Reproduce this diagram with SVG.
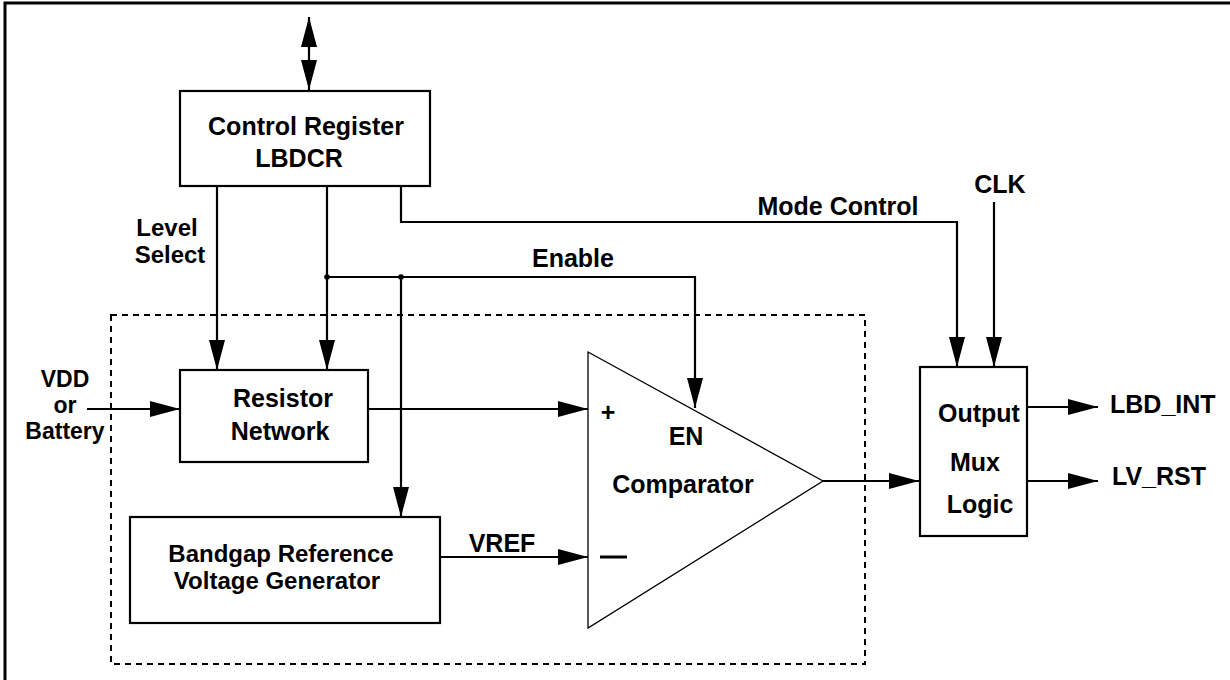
<svg xmlns="http://www.w3.org/2000/svg" width="1230" height="680" viewBox="0 0 1230 680">
<style>
.box{fill:#fff;stroke:#000;stroke-width:2.2}
.ln{fill:none;stroke:#000;stroke-width:2.2}
.arr{marker-end:url(#ah)}
.t{font-family:"Liberation Sans",Arial,sans-serif;font-weight:bold;font-size:25px;fill:#000}
.s{font-size:23px}
.k{font-size:24px}
.m{text-anchor:middle}
</style>
<defs>
<marker id="ah" markerUnits="userSpaceOnUse" markerWidth="30" markerHeight="16" refX="30" refY="8" orient="auto-start-reverse">
<path d="M0,0 L30,8 L0,16 z" fill="#000"/>
</marker>
</defs>
<rect width="1230" height="680" fill="#fff"/>
<path d="M5,680 V3 H1230" fill="none" stroke="#000" stroke-width="3"/>
<g id="block-boundary">
<rect x="111" y="315" width="754" height="349" fill="none" stroke="#000" stroke-width="2" stroke-dasharray="6,5"/>
</g>
<g id="connectors">
<line class="ln" x1="309" y1="17" x2="309" y2="90" style="marker-start:url(#ah);marker-end:url(#ah)"/>
<line class="ln arr" x1="217" y1="186" x2="217" y2="370"/>
<line class="ln arr" x1="327" y1="186" x2="327" y2="370"/>
<polyline class="ln arr" points="401,186 401,222 957,222 957,367"/>
<line class="ln arr" x1="994" y1="202" x2="994" y2="367"/>
<polyline class="ln arr" points="327,277 695,277 695,408"/>
<line class="ln arr" x1="401" y1="277" x2="401" y2="517"/>
<circle cx="327" cy="277" r="2.8" fill="#000"/>
<circle cx="401" cy="277" r="2.8" fill="#000"/>
<line class="ln arr" x1="87" y1="409" x2="180" y2="409"/>
<line class="ln arr" x1="368" y1="409" x2="588" y2="409"/>
<line class="ln arr" x1="440" y1="557" x2="588" y2="557"/>
<line class="ln arr" x1="823" y1="481" x2="919" y2="481"/>
<line class="ln arr" x1="1027" y1="407" x2="1098" y2="407"/>
<line class="ln arr" x1="1027" y1="481" x2="1098" y2="481"/>
<text class="t k m" x="167" y="236">Level</text>
<text class="t k m" x="170" y="263">Select</text>
<text class="t m" x="838" y="215">Mode Control</text>
<text class="t m" x="1000" y="193">CLK</text>
<text class="t m" x="573" y="267">Enable</text>
<text class="t s m" x="65" y="387">VDD</text>
<text class="t s m" x="65" y="413">or</text>
<text class="t s m" x="65" y="439">Battery</text>
<text class="t m" x="502" y="552">VREF</text>
<text class="t" x="1110" y="413">LBD_INT</text>
<text class="t" x="1112" y="485">LV_RST</text>
</g>
<g id="control-register">
<rect class="box" x="180" y="91" width="250" height="95"/>
<text class="t m" x="306" y="135">Control Register</text>
<text class="t m" x="299" y="167">LBDCR</text>
</g>
<g id="resistor-network">
<rect class="box" x="180" y="370" width="188" height="92"/>
<text class="t m" x="283" y="407">Resistor</text>
<text class="t m" x="280" y="440">Network</text>
</g>
<g id="bandgap">
<rect class="box" x="130" y="517" width="310" height="106"/>
<text class="t k m" x="281" y="562">Bandgap Reference</text>
<text class="t k m" x="277" y="589">Voltage Generator</text>
</g>
<g id="comparator">
<polygon points="588,352 823,481 588,628" fill="#fff" stroke="#000" stroke-width="1.3"/>
<text class="t m" x="608" y="421">+</text>
<line x1="600" y1="557" x2="627" y2="557" stroke="#000" stroke-width="3"/>
<text class="t m" x="686" y="445">EN</text>
<text class="t m" x="683" y="493">Comparator</text>
</g>
<g id="output-mux">
<rect class="box" x="920" y="367" width="107" height="169"/>
<text class="t m" x="979" y="422">Output</text>
<text class="t m" x="975" y="471">Mux</text>
<text class="t m" x="980" y="513">Logic</text>
</g>
</svg>
